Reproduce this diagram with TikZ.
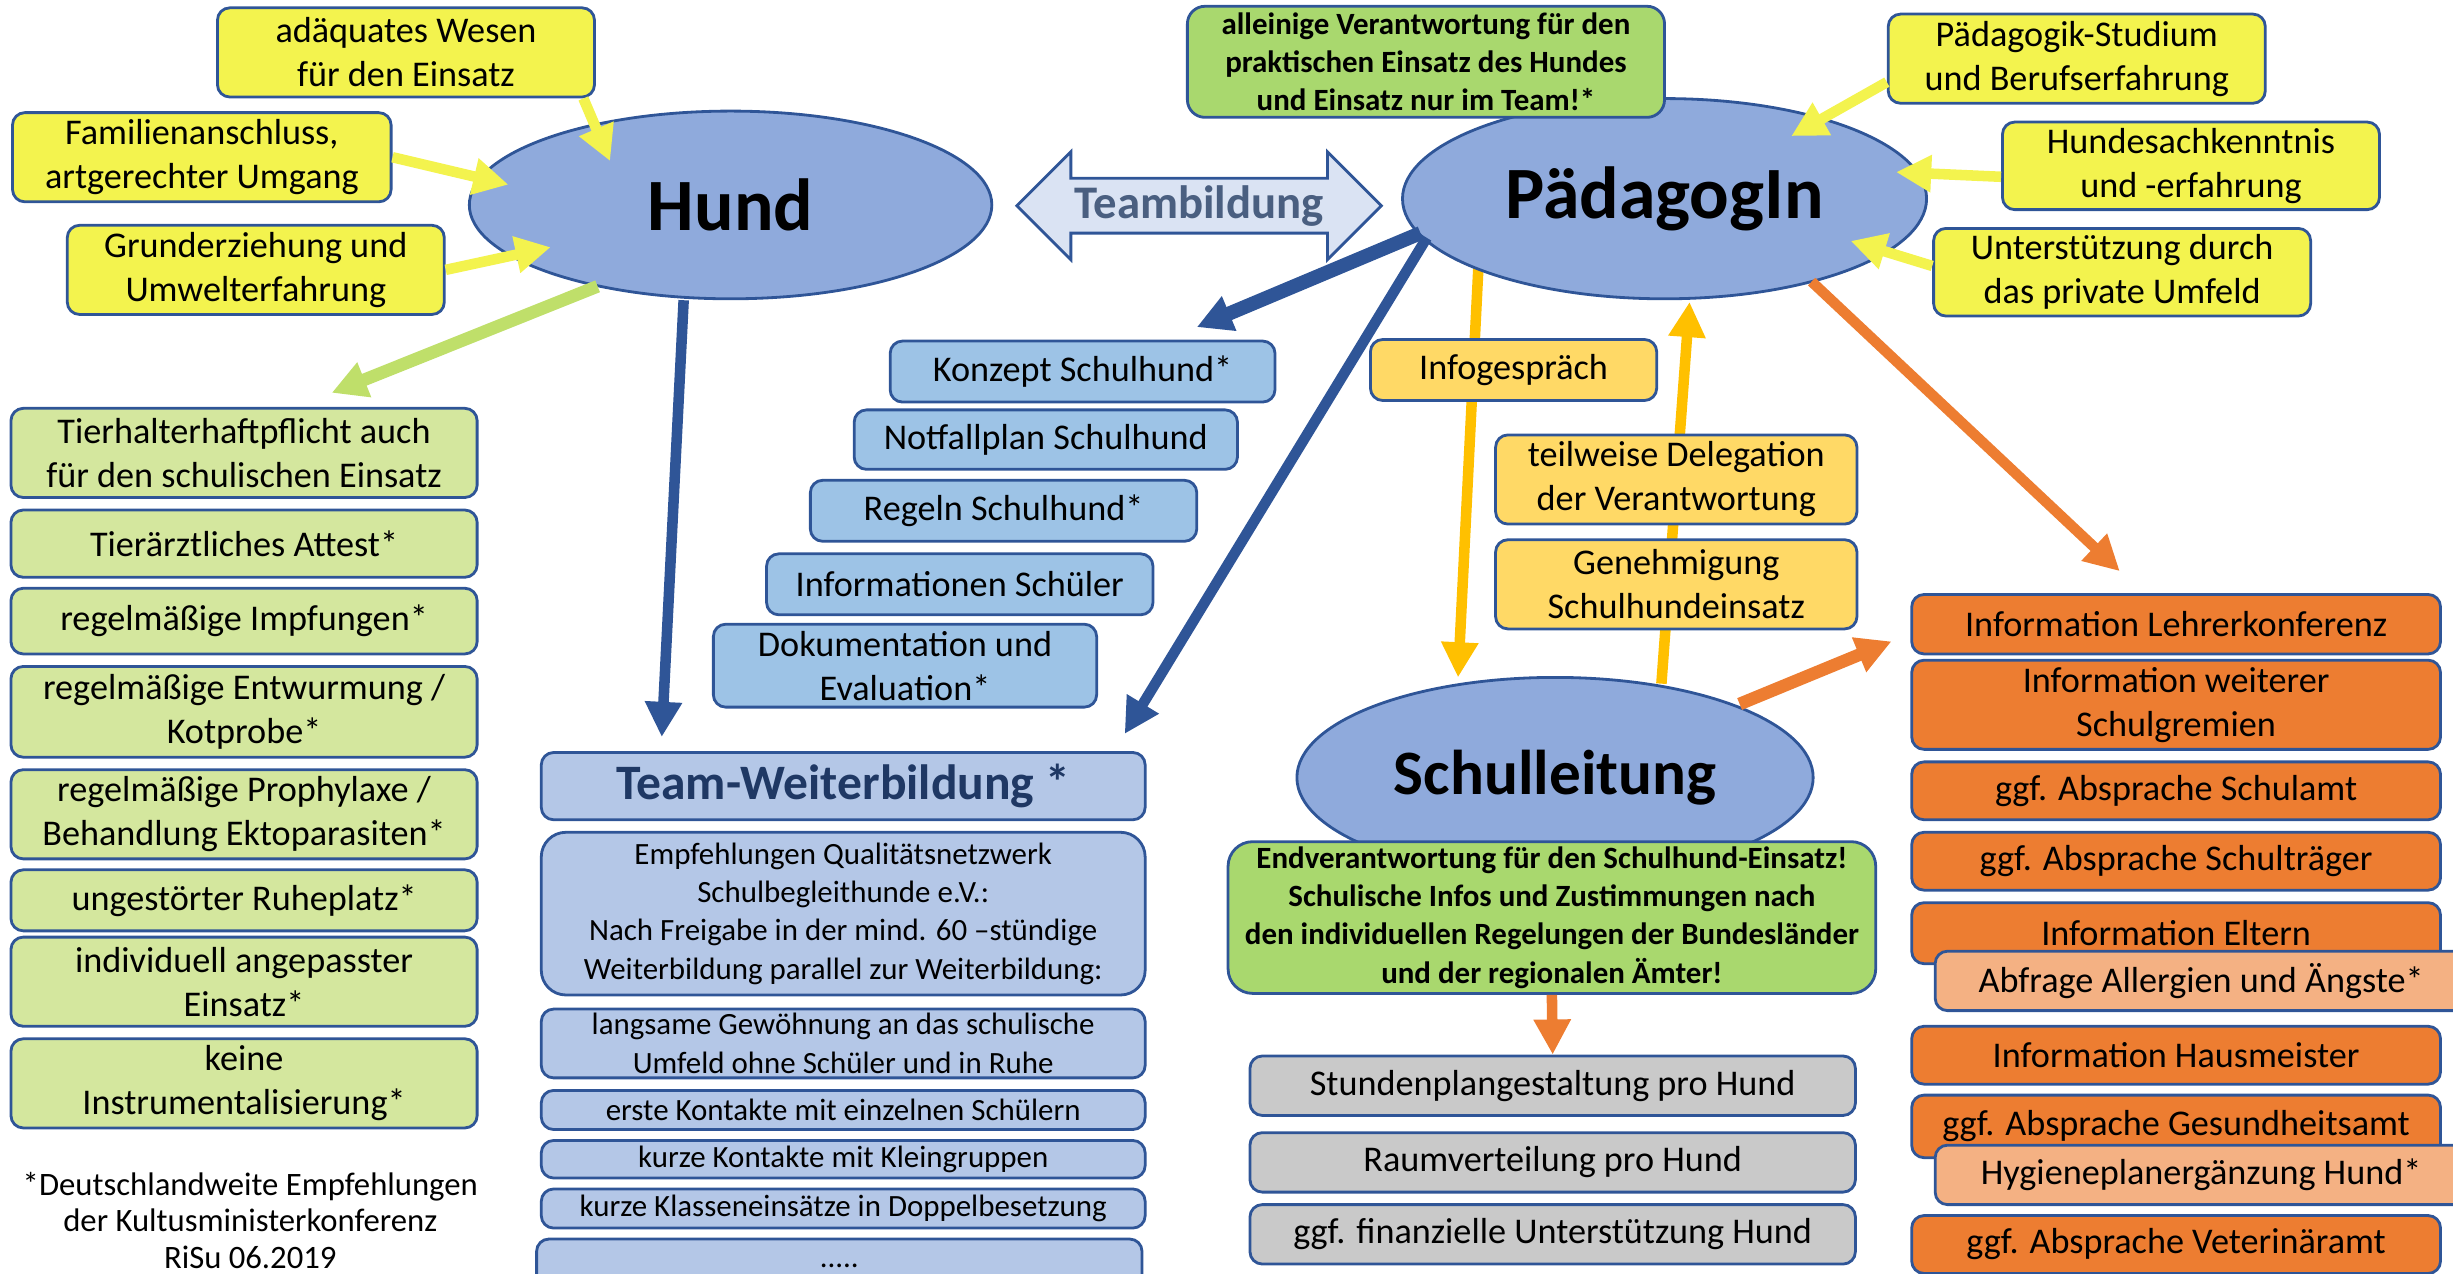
\documentclass[tikz,border=0pt]{standalone}
\usepackage{fontspec}
\setmainfont{Carlito}
\usetikzlibrary{arrows.meta,shapes.geometric,shapes.arrows,backgrounds}

\definecolor{rand}{HTML}{2F5597}
\definecolor{ellblau}{HTML}{8FAADC}
\definecolor{gelb}{HTML}{F3F34E}
\definecolor{gruen}{HTML}{A9D86E}
\definecolor{hellgruen}{HTML}{D4E79E}
\definecolor{pfeilgruen}{HTML}{BFDF6A}
\definecolor{hellblau}{HTML}{9DC3E6}
\definecolor{teamblau}{HTML}{B4C7E7}
\definecolor{teamhell}{HTML}{DAE3F3}
\definecolor{gold}{HTML}{FFD966}
\definecolor{goldpfeil}{HTML}{FFC000}
\definecolor{dunkelorange}{HTML}{ED7D31}
\definecolor{hellorange}{HTML}{F4B183}
\definecolor{grau}{HTML}{C9C9C9}
\definecolor{navy}{HTML}{1F3864}
\definecolor{teamtext}{HTML}{4A5F80}

\newcommand{\pxl}{0.4451pt}
\newcommand{\normalfs}{\fontsize{10.3}{12.5}\selectfont}
\newcommand{\kleinfs}{\fontsize{8.8}{10.9}\selectfont}

\tikzset{
  box/.style={draw=rand, line width=0.8pt, rounded corners=3.5pt, align=center, inner sep=0pt, font=\normalfs},
  wh/.style 2 args={minimum width=#1*\pxl, minimum height=#2*\pxl},
  ybox/.style={box, fill=gelb},
  lbox/.style={box, fill=hellgruen},
  bbox/.style={box, fill=hellblau},
  tbox/.style={box, fill=teamblau, font=\kleinfs},
  obox/.style={box, fill=gold},
  orbox/.style={box, fill=dunkelorange},
  hobox/.style={box, fill=hellorange},
  gbox/.style={box, fill=grau},
  fbox/.style={box, fill=gruen, font=\kleinfs\bfseries},
  ell/.style={ellipse, draw=rand, line width=0.8pt, fill=ellblau, inner sep=0pt},
  pfeil/.style={line width=3pt, -{Triangle[width=10pt,length=10pt]}},
}

\begin{document}
\begin{tikzpicture}[x=0.4451pt, y=-0.4451pt]
\useasboundingbox (0,0) rectangle (1568,814);

% die drei Ellipsen
\node[ell, wh={334}{120}, font=\fontsize{21}{25}\selectfont\bfseries] (hund) at (467,131) {Hund};
\node[ell, wh={335}{128}, font=\fontsize{21}{25}\selectfont\bfseries] (paed) at (1064,127) {PädagogIn};
\node[ell, wh={330}{128}, font=\fontsize{18}{22}\selectfont\bfseries] (schul) at (994,497) {Schulleitung};

\node[double arrow, draw=rand, line width=0.8pt, fill=teamhell, double arrow head extend=6pt,
      double arrow tip angle=90, minimum height=233*\pxl, minimum width=69*\pxl, inner sep=0pt,
      text=teamtext, font=\fontsize{13.3}{16}\selectfont\bfseries] (team) at (766.5,131.5) {Teambildung};

% links oben
\node[ybox, wh={241}{57}] (adaequat) at (259.5,33.5) {adäquates Wesen\\für den Einsatz};
\node[ybox, wh={242}{57}] (famil) at (129,100.5) {Familienanschluss,\\artgerechter Umgang};
\node[ybox, wh={241}{57}] (grund) at (163.5,172.5) {Grunderziehung und\\Umwelterfahrung};

% rechts oben
\node[fbox, wh={305}{71}, rounded corners=5pt] (allein) at (911.5,39.5) {alleinige Verantwortung für den\\praktischen Einsatz des Hundes\\und Einsatz nur im Team!*};
\node[ybox, wh={241}{57}] (paedstud) at (1327.5,37.5) {Pädagogik-Studium\\und Berufserfahrung};
\node[ybox, wh={241}{56}] (hundsach) at (1400.5,106) {Hundesachkenntnis\\und -erfahrung};
\node[ybox, wh={241}{56}] (umfeld) at (1356.5,174) {Unterstützung durch\\das private Umfeld};

% Hund: Voraussetzungen
\node[lbox, wh={298}{57}] (haft) at (156,289.5) {Tierhalterhaftpflicht auch\\für den schulischen Einsatz};
\node[lbox, wh={298}{43}] (attest) at (156,347.5) {Tierärztliches Attest*};
\node[lbox, wh={298}{42}] (impf) at (156,397) {regelmäßige Impfungen*};
\node[lbox, wh={298}{58}] (wurm) at (156,455) {regelmäßige Entwurmung /\\Kotprobe*};
\node[lbox, wh={298}{57}] (prophy) at (156,520.5) {regelmäßige Prophylaxe /\\Behandlung Ektoparasiten*};
\node[lbox, wh={298}{39}] (ruhe) at (156,575.5) {ungestörter Ruheplatz*};
\node[lbox, wh={298}{57}] (einsatz) at (156,627.5) {individuell angepasster\\Einsatz*};
\node[lbox, wh={298}{57}] (instr) at (156,692.5) {keine\\Instrumentalisierung*};
\node[align=center, font=\fontsize{9.3}{10.4}\selectfont] (fussnote) at (160,780) {*Deutschlandweite Empfehlungen\\der Kultusministerkonferenz\\RiSu 06.2019};

% Konzept-Treppe
\node[bbox, wh={246}{39}] (konzept) at (692,237.5) {Konzept Schulhund*};
\node[bbox, wh={245}{38}] (notfall) at (668.5,281) {Notfallplan Schulhund};
\node[bbox, wh={247}{39}] (regeln) at (641.5,326.5) {Regeln Schulhund*};
\node[bbox, wh={247}{39}] (infsch) at (613.5,373.5) {Informationen Schüler};
\node[bbox, wh={245}{53}] (doku) at (578.5,425.5) {Dokumentation und\\Evaluation*};

% Team-Weiterbildung
\node[tbox, wh={386}{43}, text=navy, font=\fontsize{14.1}{17}\selectfont\bfseries] (ttitle) at (539,502.5) {Team-Weiterbildung *};
\node[tbox, wh={386}{104}, rounded corners=7pt] (tempf) at (539,584) {Empfehlungen Qualitätsnetzwerk\\Schulbegleithunde e.V.:\\Nach Freigabe in der mind. 60 –stündige\\Weiterbildung parallel zur Weiterbildung:};
\node[tbox, wh={386}{44}] (tgew) at (539,667) {langsame Gewöhnung an das schulische\\Umfeld ohne Schüler und in Ruhe};
\node[tbox, wh={386}{25}] (terste) at (539,709.5) {erste Kontakte mit einzelnen Schülern};
\node[tbox, wh={386}{24}] (tkurz) at (539,741) {kurze Kontakte mit Kleingruppen};
\node[tbox, wh={386}{25}] (tklasse) at (539,772.5) {kurze Klasseneinsätze in Doppelbesetzung};
\node[tbox, wh={387}{34}] (tdots) at (536.5,809) {.....};

% Schulleitung
\node[obox, wh={183}{39}] (infog) at (967.5,236.5) {Infogespräch};
\node[obox, wh={231}{57}] (deleg) at (1071.5,306.5) {teilweise Delegation\\der Verantwortung};
\node[obox, wh={231}{57}] (genehm) at (1071.5,373.5) {Genehmigung\\Schulhundeinsatz};
\node[fbox, wh={414}{97}, rounded corners=7pt] (endver) at (992,586.5) {Endverantwortung für den Schulhund-Einsatz!\\Schulische Infos und Zustimmungen nach\\den individuellen Regelungen der Bundesländer\\und der regionalen Ämter!};
\node[gbox, wh={387}{38}] (stund) at (992.5,694) {Stundenplangestaltung pro Hund};
\node[gbox, wh={387}{38}] (raum) at (992.5,743) {Raumverteilung pro Hund};
\node[gbox, wh={387}{38}] (finanz) at (992.5,789) {ggf. finanzielle Unterstützung Hund};

% Informationen
\node[orbox, wh={338}{38}] (lehrer) at (1391,399) {Information Lehrerkonferenz};
\node[orbox, wh={338}{57}] (gremien) at (1391,450.5) {Information weiterer\\Schulgremien};
\node[orbox, wh={338}{37}] (schulamt) at (1391,505.5) {ggf. Absprache Schulamt};
\node[orbox, wh={338}{37}] (traeger) at (1391,550.5) {ggf. Absprache Schulträger};
\node[orbox, wh={338}{39}] (eltern) at (1391,596.5) {Information Eltern};
\node[hobox, wh={340}{38}] (allerg) at (1407,627) {Abfrage Allergien und Ängste*};
\node[orbox, wh={338}{37}] (hausm) at (1391,674.5) {Information Hausmeister};
\node[orbox, wh={338}{40}] (gesund) at (1391,720) {ggf. Absprache Gesundheitsamt};
\node[hobox, wh={340}{38}] (hygiene) at (1407,751) {Hygieneplanergänzung Hund*};
\node[orbox, wh={338}{37}] (veter) at (1391,795.5) {ggf. Absprache Veterinäramt};

% Pfeile
\draw[pfeil, gelb] ([shift={(-8,0)}]adaequat.south east) -- ([shift={(-77,-28)}]hund.center);
\draw[pfeil, gelb] (famil.east) -- ([shift={(-142,-13)}]hund.center);
\draw[pfeil, gelb] (grund.east) -- ([shift={(-115,27)}]hund.center);
\draw[pfeil, gelb] ([shift={(0,15)}]paedstud.west) -- ([shift={(81,-40)}]paed.center);
\draw[pfeil, gelb] ([shift={(0,7)}]hundsach.west) -- ([shift={(148,-17)}]paed.center);
\draw[pfeil, gelb] ([shift={(0,-4)}]umfeld.west) -- ([shift={(119,27)}]paed.center);
\draw[pfeil, pfeilgruen, line width=3.6pt] ([shift={(-85,52)}]hund.center) -- ([shift={(56,-9)}]haft.north);
\draw[pfeil, rand] ([shift={(-30,0)}]hund.south) -- ([shift={(-116,-9)}]ttitle.north);
\draw[pfeil, rand, line width=4pt] ([shift={(-156,22)}]paed.center) -- ([shift={(73,-8)}]konzept.north);
\draw[pfeil, rand] ([shift={(-152,25)}]paed.center) -- ([shift={(-14,-11)}]ttitle.north east);
\draw[pfeil, dunkelorange] ([shift={(94,53)}]paed.center) -- ([shift={(-36,-14)}]lehrer.north);
\draw[pfeil, dunkelorange, line width=3.6pt] ([shift={(118,-47)}]schul.center) -- ([shift={(-12,11)}]lehrer.west);
\draw[pfeil, dunkelorange] (endver.south) -- (stund.north);
\begin{pgfonlayer}{background}
\draw[pfeil, goldpfeil] ([shift={(-119,44)}]paed.center) -- ([shift={(-62,-64)}]schul.center);
\draw[pfeil, goldpfeil] ([shift={(68,-60)}]schul.center) -- ([shift={(16,66)}]paed.center);
\end{pgfonlayer}
\end{tikzpicture}
\end{document}
